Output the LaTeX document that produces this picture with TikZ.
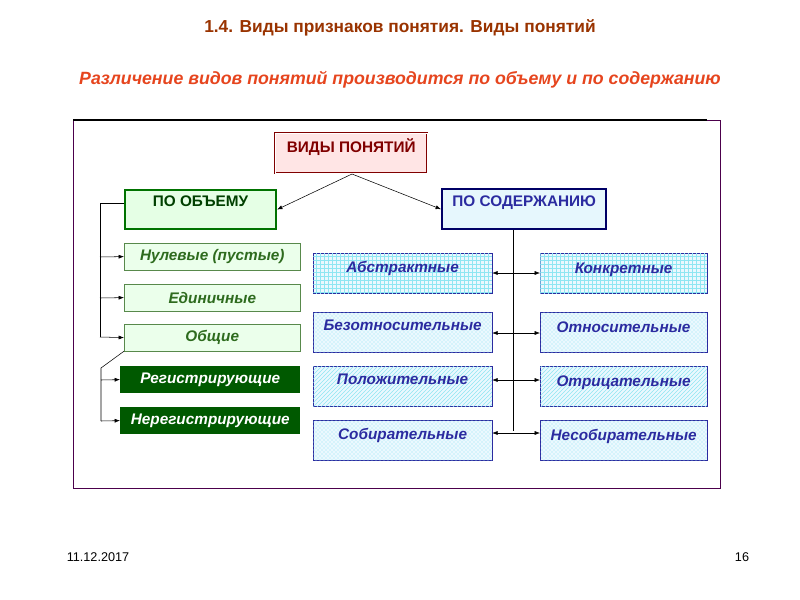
\documentclass[tikz,border=0pt]{standalone}
\usepackage{fontspec}
\setmainfont{Liberation Sans}
\usetikzlibrary{patterns,arrows.meta}
\definecolor{titlec}{HTML}{993300}
\definecolor{subc}{HTML}{E6451E}
\definecolor{dgreen}{HTML}{2E6B1E}
\definecolor{bnavy}{HTML}{2B2BA0}
\definecolor{pcyan}{HTML}{8FE6F2}
\tikzset{
 bx/.style={draw, minimum width=#1, inner sep=0pt, font=\bfseries\itshape\fontsize{11.5}{13}\selectfont},
 gbox/.style={bx=132pt, minimum height=20pt, draw=dgreen!80, fill=green!8, text=dgreen},
 dbox/.style={bx=135pt, minimum height=20pt, draw=none, fill=green!35!black, text=white},
 cbox/.style={bx=134pt, minimum height=30pt, draw=bnavy, fill=cyan!8, text=bnavy},
 rbox/.style={bx=125pt, minimum height=30pt, draw=bnavy, fill=cyan!8, text=bnavy},
 arr/.style={-{Latex[length=4pt,width=3pt]}, thin},
 darr/.style={{Latex[length=4pt,width=3pt]}-{Latex[length=4pt,width=3pt]}, thin},
 hd/.style={anchor=north west, font=\bfseries\fontsize{11.5}{13}\selectfont, text depth=12pt},
}
\begin{document}
\begin{tikzpicture}[x=0.75pt,y=-0.75pt]
\useasboundingbox (0,0) rectangle (800,600);
\node[font=\bfseries\fontsize{13}{15}\selectfont, text=titlec] (t) at (400,28) {1.4. Виды признаков понятия. Виды понятий};
\node[font=\bfseries\itshape\fontsize{13.3}{15}\selectfont, text=subc] (st) at (400,80) {Различение видов понятий производится по объему и по содержанию};
\draw[draw=violet!60!black] (73,120) rectangle (720,488);
\draw[thick] (73,120) -- (707,120);
% top
\node[hd, draw=red!50!black, double, fill=pink!40, minimum width=114pt, minimum height=30pt, text=red!50!black] (v) at (275,133) {ВИДЫ ПОНЯТИЙ};
\node[hd, draw=green!45!black, line width=1.8pt, fill=green!10, minimum width=113pt, minimum height=29pt, text=green!25!black] (ob) at (124,189) {ПО ОБЪЕМУ};
\node[hd, draw=blue!40!black, line width=1.8pt, fill=cyan!10, minimum width=123pt, minimum height=30pt, text=bnavy] (sd) at (441,188) {ПО СОДЕРЖАНИЮ};
\coordinate (vb) at (352,174);
\draw[arr] (vb) -- (ob.east);
\draw[arr] (vb) -- (sd.west);
% green column
\node[gbox, anchor=north west] (n1) at (124,243) {Нулевые (пустые)};
\node[gbox, anchor=north west] (n2) at (124,284) {Единичные};
\node[gbox, anchor=north west] (n3) at (124,324) {Общие};
\node[dbox, anchor=north west] (r1) at (120,366) {Регистрирующие};
\node[dbox, anchor=north west] (r2) at (120,407) {Нерегистрирующие};
\coordinate (lt) at (100,203);
\draw (ob.west |- lt) -- (lt) -- (100,337);
\draw[arr] (100,257) -- (n1.west);
\draw[arr] (100,298) -- (n2.west);
\draw[arr] (100,337) -- (n3.west);
\draw (n3.south west) -- (101,368) -- (101,421);
\draw[arr] (101,380) -- (r1.west);
\draw[arr] (101,421) -- (r2.west);
% cyan boxes
\foreach \n/\y/\p/\tl/\tr in {a/253/grid/Абстрактные/Конкретные, b/312/crosshatch dots/Безотносительные/Относительные, c/366/north east lines/Положительные/Отрицательные, d/420/crosshatch dots/Собирательные/Несобирательные}{
 \node[cbox, anchor=north west, postaction={pattern=\p, pattern color=pcyan}, text depth=10pt] (\n l) at (313,\y) {\tl};
 \node[rbox, anchor=north west, postaction={pattern=\p, pattern color=pcyan}, text depth=8pt] (\n r) at (540,\y) {\tr};
}
\draw (513,230) -- (513,431);
\draw[darr] (al.east |- 0,273) -- (ar.west |- 0,273);
\draw[darr] (bl.east |- 0,333) -- (br.west |- 0,333);
\draw[darr] (cl.east |- 0,380) -- (cr.west |- 0,380);
\draw[darr] (dl.east |- 0,433) -- (dr.west |- 0,433);
% footer
\node[font=\fontsize{9.5}{11}\selectfont] (d) at (98,557) {11.12.2017};
\node[font=\fontsize{9.5}{11}\selectfont] (p) at (742,557) {16};
\end{tikzpicture}
\end{document}
